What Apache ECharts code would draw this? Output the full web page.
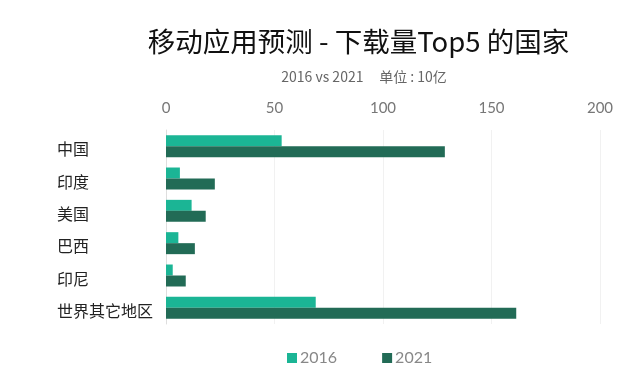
<!DOCTYPE html>
<html><head><meta charset="utf-8">
<script src="https://cdn.jsdelivr.net/npm/echarts@6/dist/echarts.min.js"></script>
<style>html,body{margin:0;padding:0;background:#fff}#c{width:642px;height:387px}</style>
</head><body><div id="c"></div>
<script>
const categories = ['中国','印度','美国','巴西','印尼','世界其它地区'];
const values2016 = [53.3, 6.4, 11.8, 5.7, 3.1, 69];
const values2021 = [128.5, 22.5, 18.3, 13.3, 9.1, 161.4];
const xTicks = [0, 50, 100, 150, 200];
const seriesNames = ['2016', '2021'];

const chart = echarts.init(document.getElementById('c'));
chart.setOption({
  animation: false,
  title: [{
    text: '移动应用预测 - 下载量Top5 的国家',
    left: 353.5, top: 23, textAlign: 'center',
    textStyle: {fontFamily: 'Noto Sans CJK SC', fontSize: 27.5, fontWeight: 'normal', color: '#111'}
  }, {
    text: '2016 vs 2021     单位 : 10亿',
    left: 359, top: 65, textAlign: 'center',
    textStyle: {fontFamily: 'Noto Sans CJK SC', fontSize: 14, fontWeight: 'normal', color: '#666'}
  }],
  legend: {
    data: seriesNames, left: 282, top: 345, itemWidth: 10, itemHeight: 10, itemGap: 45,
    icon: 'rect',
    textStyle: {fontFamily: 'Lato', fontSize: 16, color: '#888', padding: [0, 0, 0, -2]}
  },
  grid: {left: 166, right: 42, top: 130, bottom: 63, containLabel: false},
  xAxis: {
    type: 'value', position: 'top', min: 0, max: 200, interval: 50,
    axisLine: {show: false}, axisTick: {show: false},
    axisLabel: {fontFamily: 'Lato', fontSize: 15, color: '#777', margin: 14,
      formatter: v => xTicks.includes(v) ? String(v) : ''},
    splitLine: {lineStyle: {color: '#f1f1f1'}}
  },
  yAxis: {
    type: 'category', data: categories, inverse: true,
    axisLine: {lineStyle: {color: '#dedede'}}, axisTick: {show: false},
    axisLabel: {align: 'left', margin: 109, fontFamily: 'Noto Sans CJK SC', fontSize: 16, color: '#222',
      verticalAlign: 'top', lineHeight: 6}
  },
  series: [{
    name: seriesNames[0], type: 'bar', data: values2016, barGap: '0%', barCategoryGap: '32%',
    itemStyle: {color: '#1bb595'}
  }, {
    name: seriesNames[1], type: 'bar', data: values2021, barGap: '0%', barCategoryGap: '32%',
    itemStyle: {color: '#226b56'}
  }]
});
</script></body></html>
